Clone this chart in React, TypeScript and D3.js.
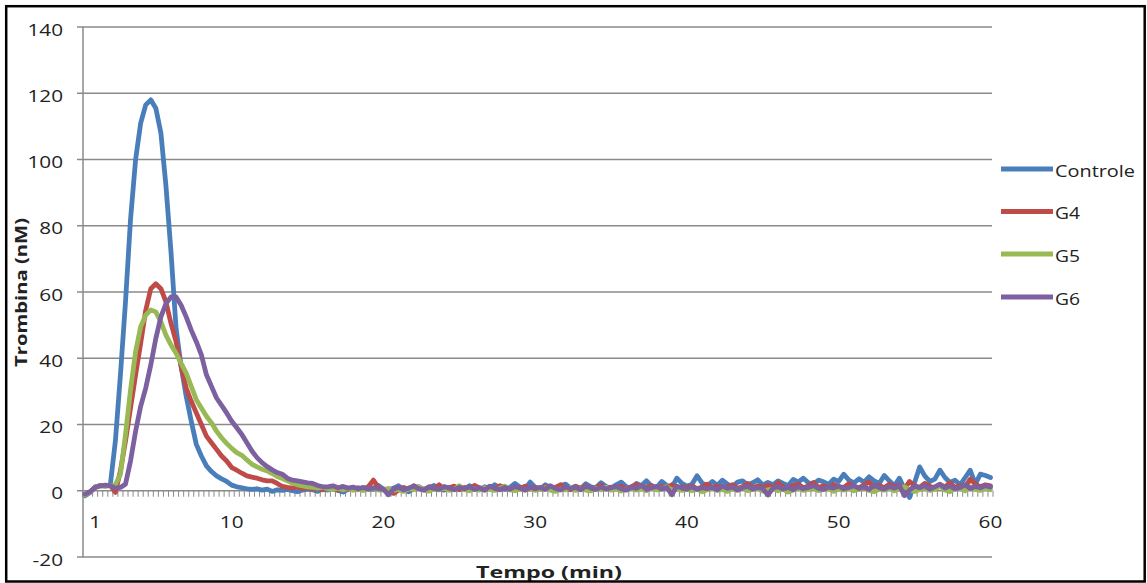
import React from 'react';
import * as d3 from 'd3';

// sampling every 20 s, 1/3 min .. 60 min
const minutes = d3.range(1, 181).map(i => i / 3);

const seriesNames = ['Controle', 'G4', 'G5', 'G6'];
const seriesColors = ['#4A7EBB', '#BE4B48', '#98B954', '#7D60A0'];

const controle = [
  -1.5, -0.5, 1.2, 1.6, 1.4, 1.8, 15, 35, 57, 82, 100, 111, 116.5, 118, 115.5,
  108, 92, 72, 49, 37.5, 28.5, 21, 14, 10.5, 7.5, 5.8, 4.5, 3.6, 2.8, 1.7,
  1.2, 0.9, 0.6, 0.4, 0.6, 0.2, 0.5, -0.2, 0.3, 0.1, 0.4, 0, -0.3, 0.2, 0.5,
  0.3, -0.2, 0.6, 0.2, 0.8, 0.1, -0.4, 0.5, 0.3, 0.9, 0.2, 0.6, 0.4, 1.6, 0.5,
  0.2, 0.8, 1.5, 0.3, -0.3, 0.6, 1.2, 0.4, 0.9, 1.6, 0.5, 0.2, 1.0, 0.6, 1.3,
  0.4, 1.5, 0.8, 0.3, 1.2, 0.7, 1.8, 0.9, 0.4, 1.0, 2.2, 1.1, 0.6, 2.6, 1.0,
  0.5, 1.8, 1.0, 0.4, 1.6, 2.0, 0.8, 1.4, 0.6, 2.1, 1.2, 0.9, 2.4, 1.3, 0.7,
  1.8, 2.6, 1.2, 0.8, 2.2, 1.5, 3.0, 1.3, 0.9, 2.8, 1.6, 1.0, 3.8, 2.2, 1.4,
  2.0, 4.5, 2.3, 1.5, 2.8, 1.6, 3.2, 2.0, 1.2, 2.6, 3.0, 1.8, 2.4, 3.3, 1.7,
  2.5, 1.8, 3.0, 2.2, 1.6, 3.4, 2.6, 3.8, 2.4, 2.0, 3.2, 2.7, 1.9, 3.5, 2.8,
  5.0, 3.2, 2.4, 3.6, 2.6, 4.2, 3.0, 2.2, 4.6, 3.0, 1.5, 3.8, 0.5, -2.0, 2.5,
  7.2, 4.5, 2.8, 3.5, 6.2, 4.0, 2.5, 3.2, 1.8, 4.0, 6.2, 2.0, 5.0, 4.6, 4.0,
];

const g4 = [
  -1.2, -0.3, 1.0, 1.5, 1.6, 1.6, -0.5, 6, 15, 25, 35, 44.5, 54.5, 61, 62.5,
  61, 57, 50.5, 45, 37.5, 31, 27, 23.5, 20, 16.5, 14.5, 12.5, 10.5, 9, 7,
  6.2, 5.3, 4.5, 4.1, 3.8, 3.3, 3.0, 3.0, 2.2, 1.3, 1.0, 0.8, 1.2, 0.6, 0.9,
  0.5, 0.8, 0.3, 1.0, 0.6, 0.2, 0.7, 0.4, 0.9, 0.3, 0.6, 1.2, 3.2, 1.0, 0.4,
  0.6, -0.8, 0.2, 1.0, 0.4, 1.5, 0.8, 0.3, 1.2, 0.6, 1.8, 0.5, 0.9, 1.4, 0.3,
  1.0, 0.4, 1.6, 0.8, 0.2, 1.2, 0.6, 1.5, 0.9, 0.3, 1.1, 0.7, 1.4, 0.5, 1.0,
  0.6, 1.3, 0.4, 1.0, 1.8, 0.7, 0.3, 1.2, 0.8, 1.5, 0.5, 1.0, 1.7, 0.6, 1.1,
  0.8, 1.4, 0.5, 1.2, 1.9, 0.7, 1.0, 1.6, 0.4, 1.3, 0.9, 1.8, 0.6, 1.2, 0.8,
  1.5, 0.6, 1.1, 2.0, 0.9, 1.4, 0.5, 1.2, 1.8, 0.7, 1.3, 2.2, 0.9, 1.5, 1.0,
  1.7, 0.8, 2.4, 1.1, 0.6, 1.6, 2.0, 0.9, 1.4, 2.5, 1.0, 1.5, 0.7, 1.9, 1.2,
  1.0, 2.1, 1.4, 0.8, 1.8, 2.6, 1.1, 1.6, 0.9, 2.0, 1.3, 1.7, 0.6, 2.8, 1.5,
  1.0, 2.2, 1.4, 0.7, 1.8, 1.2, 2.4, 1.0, 1.6, 1.1, 3.5, 2.0, 1.2, 1.8, 1.5,
];

const g5 = [
  -1.3, -0.4, 1.1, 1.5, 1.4, 1.5, 1.8, 5, 17, 30.5, 42, 49.5, 53, 54.6, 54,
  51, 47, 44, 41.5, 38.5, 35.5, 31.5, 27.5, 25, 22.5, 20.5, 18, 16, 14.3, 12.8,
  11.5, 10.7, 9.3, 8, 7.2, 6.5, 6, 5.2, 4.3, 3.7, 3.0, 2.3, 1.8, 1.5, 1.2,
  1.0, 0.8, 1.1, 0.6, 0.4, 0.8, 0.3, 0.6, 0.2, 0.5, 0.1, 0.4, 0.7, 0.2, 0.3,
  0.5, 0.1, 0.4, -0.2, 0.6, 0.3, 1.2, 0.2, -0.1, 0.5, 0.3, 0.8, 0.1, 0.4, 1.5,
  0.3, 0.0, 0.6, 0.2, 0.9, 0.4, 0.1, 0.7, 1.4, 0.3, 0.0, 0.5, 0.2, 0.8, 0.1,
  0.4, 0.9, 0.2, -0.2, 0.5, 0.3, 1.0, 0.1, 0.6, 0.2, 0.0, 0.7, 0.3, 1.1, 0.2,
  0.5, -0.1, 0.4, 0.8, 0.2, 0.6, 0.0, 0.9, 0.3, 0.5, 1.2, 0.2, 0.6, 0.1, 0.4,
  0.0, 0.5, -0.3, 0.3, 0.8, 0.1, 0.4, -0.2, 0.6, 0.2, 0.9, 0.0, 0.4, 0.7, -0.1,
  0.3, 0.6, 0.0, 0.5, -0.4, 0.2, 0.8, 0.1, 0.4, 1.0, 0.0, 0.3, 0.6, -0.2, 0.5,
  0.2, 0.7, 0.0, 0.4, 1.1, 0.1, -0.3, 0.5, 0.2, 0.8, 0.0, 0.6, 1.2, 0.3, -0.2,
  0.4, 0.9, 0.1, 0.5, 1.4, 0.2, -0.3, 0.6, 0.8, 0.0, 1.2, 0.4, 0.1, 0.7, 0.3,
];

const g6 = [
  -1.0, -0.3, 1.0, 1.5, 1.7, 1.5, 0.8, 1.0, 2, 9, 18, 25.5, 31, 38, 46,
  52.5, 56.5, 58.5, 58.5, 56, 52.5, 48.5, 45, 41, 35, 31.5, 28, 25.8, 23.5, 21,
  19, 17, 14.5, 12, 10, 8.5, 7.3, 6.3, 5.5, 5, 3.8, 3.2, 3.0, 2.7, 2.4,
  2.2, 1.6, 1.2, 1.2, 1.5, 0.9, 1.3, 0.8, 1.1, 0.6, 1.0, 0.5, 0.9, 0.7, 0.4,
  -1.2, 0.5, 1.0, 0.3, 0.8, 1.4, 0.6, 0.2, 1.1, 0.7, 0.4, 1.3, 0.8, 0.3, 1.0,
  0.6, 1.2, 0.4, 0.9, 0.2, 1.4, 0.7, 0.3, 1.0, 0.5, 1.3, 0.8, 0.2, 1.1, 0.6,
  1.0, 0.4, 1.5, 0.7, 0.2, 1.2, 0.6, 1.0, 0.3, 1.4, 0.8, 0.4, 1.1, 0.5, 0.9,
  1.3, 0.6, 0.2, 1.1, 0.7, 1.6, 0.4, 0.9, 1.3, 0.5, 1.0, -1.2, 1.4, 0.8, 0.5,
  1.2, 0.4, 0.9, 0.6, 1.0, 0.3, 1.5, 0.7, 1.1, 0.2, 0.9, 1.4, 0.5, 1.0, 0.6,
  -1.3, 0.8, 1.2, 0.5, 1.0, 0.3, 1.3, 0.6, 1.0, 1.6, 0.7, 0.4, 1.1, 0.8, 1.4,
  0.6, 1.0, 1.5, 0.7, 1.2, 0.4, 1.8, 0.9, 0.5, 1.3, 0.8, 1.5, -1.5, 0.2, 1.4,
  0.9, 1.6, 0.5, 1.2, 2.0, 0.8, 1.4, 0.6, 1.0, 1.8, 0.7, 1.3, 0.9, 1.6, 1.1,
];

const xTickLabels = [1, 10, 20, 30, 40, 50, 60];
const yTicks = [-20, 0, 20, 40, 60, 80, 100, 120, 140];

const FONT = "'Open Sans', 'Liberation Sans', sans-serif";
const GRID = '#8a8a8a';

export default function App() {
  const width = 1147;
  const height = 583;
  const left = 83, right = 992, top = 27, bottom = 557;

  const x = d3.scaleLinear().domain([0.2, 60.1]).range([left, right]);
  const y = d3.scaleLinear().domain([-20, 140]).range([bottom, top]);

  const line = d3.line<number>()
    .x((_, i) => x(minutes[i]))
    .y(d => y(d));

  const allSeries = [controle, g4, g5, g6];
  // category boundaries for the small x ticks
  const catEdges = d3.range(0, 181).map(k => (k + 0.5) / 3);
  const legendY = [169, 211.5, 254, 297];
  const legendW = [80, 25, 25, 25];

  return (
    <svg width={width} height={height} viewBox={`0 0 ${width} ${height}`}
      style={{ position: 'absolute', left: 0, top: 0, background: '#fff' }}>
      <rect x={0} y={0} width={width} height={height} fill="#fff" />

      {/* horizontal gridlines + y ticks */}
      {yTicks.map(v => (
        <g key={v}>
          <line x1={left - 6} x2={right} y1={y(v)} y2={y(v)} stroke={GRID} strokeWidth={1.5} />
          <text transform={`translate(63,${y(v) + 8.5}) scale(1.22,1)`} textAnchor="end"
            fontFamily={FONT} fontSize={17} fill="#222">{v}</text>
        </g>
      ))}
      <line x1={left} x2={left} y1={top} y2={bottom} stroke={GRID} strokeWidth={1.5} />

      {/* category ticks on the zero line */}
      {catEdges.map((t, k) => (
        <line key={k} x1={x(t)} x2={x(t)} y1={y(0)} y2={y(0) + 6} stroke={GRID} strokeWidth={1} />
      ))}
      {xTickLabels.map(t => (
        <text key={t} transform={`translate(${x(t)},528) scale(1.22,1)`} textAnchor="middle"
          fontFamily={FONT} fontSize={17} fill="#222">{t}</text>
      ))}

      {/* series */}
      {allSeries.map((s, i) => (
        <path key={i} d={line(s) || ''} fill="none" stroke={seriesColors[i]} strokeWidth={4.8}
          strokeLinejoin="round" strokeLinecap="round" />
      ))}

      {/* legend */}
      {seriesNames.map((n, i) => (
        <g key={n}>
          <line x1={1001} x2={1053} y1={legendY[i]} y2={legendY[i]} stroke={seriesColors[i]} strokeWidth={4.8} />
          <text x={1055} y={legendY[i] + 7.5} fontFamily={FONT} fontSize={17} fill="#222"
            textLength={legendW[i]} lengthAdjust="spacingAndGlyphs">{n}</text>
        </g>
      ))}

      {/* axis titles */}
      <text x={549} y={578} textAnchor="middle" fontFamily={FONT} fontSize={16} fontWeight="bold"
        fill="#222" textLength={146} lengthAdjust="spacingAndGlyphs">Tempo (min)</text>
      <text transform="translate(27,292.5) rotate(-90)" textAnchor="middle" fontFamily={FONT}
        fontSize={16} fontWeight="bold" fill="#222" textLength={149}
        lengthAdjust="spacingAndGlyphs">Trombina (nM)</text>

      {/* outer border */}
      <rect x={6.2} y={6.2} width={1138.5} height={575.3} fill="none" stroke="#000" strokeWidth={2.5} />
    </svg>
  );
}
